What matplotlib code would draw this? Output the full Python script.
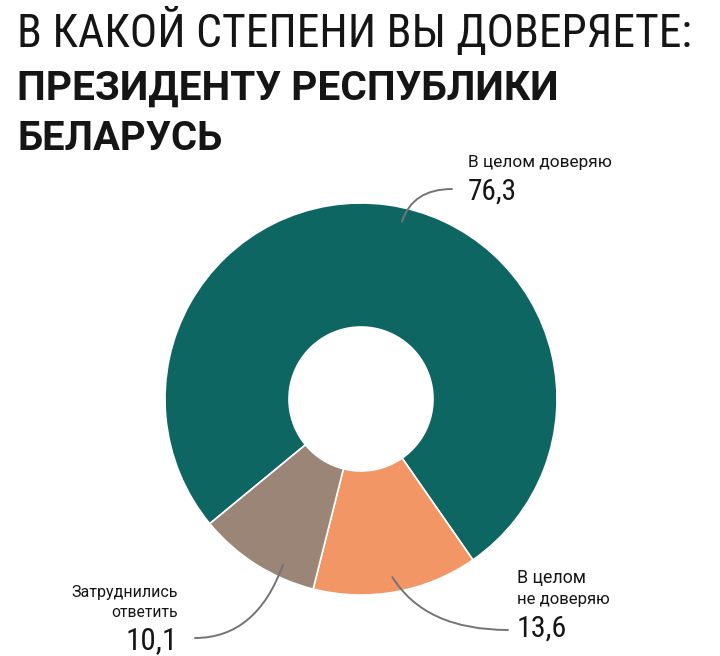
import matplotlib
matplotlib.use("Agg")
import matplotlib.pyplot as plt
import numpy as np
from matplotlib.patches import FancyArrowPatch

# data
categories = ["В целом доверяю", "В целом не доверяю", "Затруднились ответить"]
values = [76.3, 13.6, 10.1]
value_labels = ["76,3", "13,6", "10,1"]
colors = ["#0e6663", "#f29665", "#9a8577"]
title_lines = ["В КАКОЙ СТЕПЕНИ ВЫ ДОВЕРЯЕТЕ:", "ПРЕЗИДЕНТУ РЕСПУБЛИКИ", "БЕЛАРУСЬ"]

W, H = 720, 656
plt.rcParams["font.family"] = ["Roboto", "DejaVu Sans"]

fig = plt.figure(figsize=(W / 100, H / 100), dpi=100)
ax = fig.add_axes([0, 0, 1, 1])

# donut, in pixel coordinates (y flipped)
cx, cy, R, r_in = 361, H - 399, 196, 72
wedges, _ = ax.pie(values, colors=colors, startangle=219.5, counterclock=False,
                   center=(cx, cy), radius=R, frame=True,
                   wedgeprops=dict(width=R - r_in, edgecolor="white", linewidth=1.2))
ax.set_xlim(0, W)
ax.set_ylim(0, H)
ax.set_aspect("equal")
ax.axis("off")

renderer = fig.canvas.get_renderer()


def put(x, y_px, s, width, ha="left", weight="normal", family="Roboto",
        color="#151515"):
    # size the text so it spans the wanted pixel width
    t = ax.text(x, H - y_px, s, ha=ha, va="baseline", fontsize=20,
                weight=weight, family=[family, "DejaVu Sans"], color=color)
    w = t.get_window_extent(renderer).width
    t.set_fontsize(20 * width / w)
    return t


# title
put(17, 47, title_lines[0], 674, family="Roboto Condensed")
put(17, 100, title_lines[1], 541, weight="bold")
put(17, 150, title_lines[2], 205, weight="bold")

# leader lines: (angle on ring, radius, end point, angleA)
leaders = [(77, 182, (452, 189), 72),
           (280, 181, (508, 630), -58),
           (244.8, 183, (195, 638), 250)]
for ang, rr, (ex, ey), a in leaders:
    sx = cx + rr * np.cos(np.radians(ang))
    sy = cy + rr * np.sin(np.radians(ang))
    p = FancyArrowPatch((sx, sy), (ex, H - ey), arrowstyle="-",
                        connectionstyle=f"angle3,angleA={a},angleB=0",
                        color="#747474", lw=1.4, shrinkA=0, shrinkB=0)
    ax.add_patch(p)

# labels
put(468, 167, "В целом доверяю", 144)
put(468, 200, value_labels[0], 49, family="Roboto Condensed")

put(517, 583, "В целом", 69)
put(517, 604, "не доверяю", 93)
put(517, 637, value_labels[1], 50, family="Roboto Condensed")

put(178, 597, "Затруднились", 106, ha="right")
put(178, 617, "ответить", 66, ha="right")
put(178, 649, value_labels[2], 52, ha="right", family="Roboto Condensed")

fig.savefig("out.png", dpi=100, facecolor="white")
